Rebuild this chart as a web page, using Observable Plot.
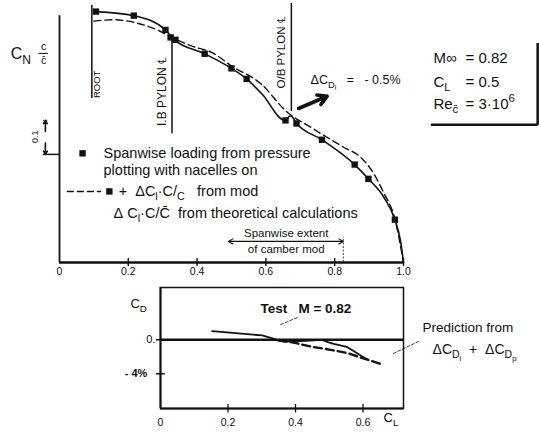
<!DOCTYPE html>
<html>
<head>
<meta charset="utf-8">
<script src="https://cdn.jsdelivr.net/npm/d3@7"></script>
<script src="https://cdn.jsdelivr.net/npm/@observablehq/plot@0.6"></script>
<style>
  html, body { margin: 0; padding: 0; background: #fff; }
  #chart { position: relative; width: 539px; height: 434px; overflow: hidden; }
  #chart svg { position: absolute; left: 0; top: 0; }
</style>
</head>
<body>
<div id="chart"></div>
<script>
// ---------- DATA ----------
// Spanwise loading, measured (squares): eta = 2y/b, CN*c/cbar
const testEta = [0.106, 0.216, 0.308, 0.323, 0.337, 0.422, 0.500, 0.544, 0.657, 0.689, 0.763, 0.858, 0.898, 0.975];
const testCN  = [0.738, 0.726, 0.684, 0.662, 0.655, 0.614, 0.571, 0.540, 0.418, 0.409, 0.361, 0.288, 0.246, 0.126];
// Faired curve through test points (solid)
const fairEta = [0.106, 0.216, 0.308, 0.331, 0.422, 0.500, 0.544, 0.590, 0.655, 0.672, 0.689, 0.763, 0.858, 0.898, 0.943, 0.975, 0.991, 1.000];
const fairCN  = [0.738, 0.726, 0.684, 0.657, 0.614, 0.571, 0.540, 0.494, 0.418, 0.432, 0.409, 0.361, 0.288, 0.246, 0.192, 0.126, 0.065, 0.000];
// Test + theoretical delta from camber mod (dashed)
const theoEta = [0.100, 0.157, 0.226, 0.284, 0.323, 0.381, 0.448, 0.500, 0.584, 0.662, 0.730, 0.826, 0.875, 0.913, 0.942, 0.975, 1.000];
const theoCN  = [0.710, 0.714, 0.704, 0.684, 0.663, 0.638, 0.615, 0.578, 0.527, 0.442, 0.398, 0.339, 0.310, 0.262, 0.206, 0.128, 0.000];
// Reference stations
const stationEta   = [0.094, 0.327, 0.674];
const stationLabel = ["ROOT", "I.B PYLON \u2104", "O/B PYLON \u2104"];
const camberExtent = [0.491, 0.825];
const xTicksTop = [0, 0.2, 0.4, 0.6, 0.8, 1.0];
const scaleBar = [0.318, 0.418]; // 0.1 of CN c/cbar

// Drag increment vs CL (percent)
const testCL = [0.153, 0.301, 0.347, 0.364, 0.415, 0.479, 0.496, 0.513, 0.533, 0.554, 0.572, 0.593, 0.613];
const testCD = [1.01, 0.51, -0.02, -0.20, -0.14, -0.02, -0.28, -0.47, -0.67, -0.87, -1.32, -1.85, -2.32];
const predCL = [0.350, 0.394, 0.444, 0.504, 0.553, 0.596, 0.657];
const predCD = [-0.10, -0.32, -0.79, -1.18, -1.55, -2.12, -2.90];
const xTicksBottom = [0, 0.2, 0.4, 0.6];
const yTicksBottom = [0, -4];

// ---------- helpers ----------
const ink = "#111";
const font = "'Liberation Sans', Arial, Helvetica, sans-serif";
const zip = (a, b) => a.map((v, i) => ({x: v, y: b[i]}));

// turn "_{..}" / "^{..}" markup into sub/superscript tspans
function build(parent, s) {
  let i = 0, buf = "";
  const flush = () => { if (buf) { parent.appendChild(document.createTextNode(buf)); buf = ""; } };
  while (i < s.length) {
    const c = s[i];
    if ((c === "_" || c === "^") && s[i + 1] === "{") {
      flush();
      let depth = 0, j = i + 1;
      for (; j < s.length; j++) {
        if (s[j] === "{") depth++;
        else if (s[j] === "}") { depth--; if (depth === 0) break; }
      }
      const ts = document.createElementNS("http://www.w3.org/2000/svg", "tspan");
      ts.style.fontSize = "75%";
      ts.style.baselineShift = c === "_" ? "-0.38em" : "0.6em";
      build(ts, s.slice(i + 2, j));
      parent.appendChild(ts);
      i = j + 1;
    } else { buf += c; i++; }
  }
  flush();
}
function rich(svg) {
  svg.querySelectorAll("text").forEach(el => {
    if (el.querySelector("tspan")) return;
    const s = el.textContent;
    if (!/[_^]\{/.test(s)) return;
    el.textContent = "";
    build(el, s);
  });
  return svg;
}

const W = 539, H = 434;
const nb = "\u00a0";

// ---------- TOP: spanwise loading ----------
const testPts = zip(testEta, testCN);
const fairPts = zip(fairEta, fairCN);
const theoPts = zip(theoEta, theoCN);
const stations = stationEta.map((e, i) => ({eta: e, label: stationLabel[i]}));
const stLine = [[0.482, 0.756], [0.379, 0.653], [0.444, 0.762]];
const stText = [[0.016, 0.524, 9.5], [-0.028, 0.503, 12], [-0.029, 0.618, 11.5]];
const boxRows = [0.600, 0.531, 0.465];

const spanPlot = Plot.plot({
  width: W, height: H,
  marginLeft: 59, marginRight: 136, marginTop: 7, marginBottom: 172,
  x: {domain: [0, 1], label: null},
  y: {domain: [0, 0.75], axis: null, label: null},
  style: {fontFamily: font, background: "transparent", color: ink, overflow: "visible"},
  marks: [
    Plot.axisX({ticks: xTicksTop, tickFormat: d => d ? d.toFixed(1) : "0", tickSize: 0, tickPadding: 5, fontSize: 10.5, label: null}),
    Plot.ruleY([0], {x1: 0, x2: 1, strokeWidth: 2.4, stroke: ink}),
    Plot.ruleX([0], {y1: 0, y2: 0.726, strokeWidth: 1.8, stroke: ink}),
    Plot.ruleX(xTicksTop.slice(1), {y1: -0.012, y2: 0.012, strokeWidth: 1.4, stroke: ink}),
    // reference station lines and labels
    Plot.ruleX(stations, {x: "eta", y1: (d, i) => stLine[i][0], y2: (d, i) => stLine[i][1], strokeWidth: 1.5, stroke: ink}),
    ...stations.map((s, i) => Plot.text([s.label], {x: s.eta + stText[i][0], y: stText[i][1], rotate: -90, fontSize: stText[i][2], fill: ink})),
    // curves
    Plot.line(theoPts, {x: "x", y: "y", curve: "monotone-x", stroke: ink, strokeWidth: 1.4, strokeDasharray: "7,4"}),
    Plot.line(fairPts, {x: "x", y: "y", curve: "monotone-x", stroke: ink, strokeWidth: 1.6}),
    Plot.dot(testPts, {x: "x", y: "y", symbol: "square", r: 3.6, fill: ink}),
    // y label C_N c/cbar
    Plot.text(["C_{N}"], {x: -0.142, y: 0.615, textAnchor: "start", fontSize: 16, fill: ink}),
    Plot.text(["c"], {x: -0.046, y: 0.634, fontSize: 11, fill: ink}),
    Plot.ruleY([0.615], {x1: -0.06, x2: -0.032, strokeWidth: 1, stroke: ink}),
    Plot.text(["c\u0304"], {x: -0.046, y: 0.595, fontSize: 11, fill: ink}),
    // 0.1 scale marker
    Plot.text(["0.1"], {x: -0.07, y: (scaleBar[0] + scaleBar[1]) / 2 + 0.002, rotate: -90, fontSize: 9, fill: ink}),
    Plot.arrow([0], {x1: -0.041, y1: scaleBar[0] + 0.067, x2: -0.041, y2: scaleBar[1], stroke: ink, strokeWidth: 1.6, headLength: 6}),
    Plot.arrow([0], {x1: -0.041, y1: scaleBar[1] - 0.067, x2: -0.041, y2: scaleBar[0], stroke: ink, strokeWidth: 1.6, headLength: 6}),
    Plot.ruleY([scaleBar[0]], {x1: -0.047, x2: 0, stroke: ink, strokeWidth: 1.5}),
    Plot.ruleY([scaleBar[1]], {x1: -0.047, x2: -0.032, stroke: ink, strokeWidth: 0.8, strokeDasharray: "1.5,1.5"}),
    // delta CDi annotation + arrow
    Plot.text([`\u0394C_{D_{i}}${nb}${nb}${nb}=${nb}${nb}${nb}-${nb}0.5%`], {x: 0.730, y: 0.538, textAnchor: "start", fontSize: 12.5, fill: ink}),
    Plot.arrow([0], {x1: 0.695, y1: 0.453, x2: 0.778, y2: 0.489, stroke: ink, strokeWidth: 3.6, headLength: 9}),
    // condition box
    Plot.text(["M\u221e", "C_{L}", "Re_{c\u0304}"], {x: 1.087, y: boxRows, textAnchor: "start", fontSize: 15, fill: ink}),
    Plot.text(["=", "=", "="], {x: 1.180, y: boxRows, textAnchor: "start", fontSize: 15, fill: ink}),
    Plot.text(["0.82", "0.5", "3\u00b710^{6}"], {x: 1.218, y: boxRows, textAnchor: "start", fontSize: 15, fill: ink}),
    Plot.ruleX([1.390], {y1: 0.403, y2: 0.644, stroke: ink, strokeWidth: 2.5}),
    Plot.ruleY([0.405], {x1: 1.081, x2: 1.391, stroke: ink, strokeWidth: 2.5}),
    // legend
    Plot.dot([0], {x: 0.067, y: 0.321, symbol: "square", r: 3.6, fill: ink}),
    Plot.text(["Spanwise loading from pressure", "plotting with nacelles on"], {x: 0.128, y: [0.321, 0.271], textAnchor: "start", fontSize: 14.5, fill: ink}),
    Plot.line([[0.023, 0.209], [0.119, 0.209]], {stroke: ink, strokeWidth: 1.4, strokeDasharray: "6,4"}),
    Plot.dot([0], {x: 0.145, y: 0.209, symbol: "square", r: 3.6, fill: ink}),
    Plot.text([`+${nb}${nb}\u0394C_{l}\u00b7C/_{C}${nb}${nb}${nb}from mod`], {x: 0.172, y: 0.209, textAnchor: "start", fontSize: 14.5, fill: ink}),
    Plot.text([`\u0394${nb}C_{l}\u00b7C/C\u0304${nb}${nb}from theoretical calculations`], {x: 0.157, y: 0.144, textAnchor: "start", fontSize: 14.5, fill: ink}),
    // spanwise extent of camber mod
    Plot.arrow([0], {x1: 0.66, y1: 0.062, x2: camberExtent[1], y2: 0.062, stroke: ink, strokeWidth: 1.1, headLength: 7}),
    Plot.arrow([0], {x1: 0.66, y1: 0.062, x2: camberExtent[0], y2: 0.062, stroke: ink, strokeWidth: 1.1, headLength: 7}),
    Plot.ruleX([camberExtent[1]], {y1: 0, y2: 0.074, stroke: ink, strokeWidth: 0.8, strokeDasharray: "2,1.5"}),
    Plot.text(["Spanwise extent", "of camber mod"], {x: 0.659, y: [0.0853, 0.038], fontSize: 11.5, fill: ink})
  ]
});

// ---------- BOTTOM: drag increment ----------
const testLine = zip(testCL, testCD);
const predLine = zip(predCL, predCD);

const dragPlot = Plot.plot({
  width: W, height: H,
  marginLeft: 160, marginRight: 136, marginTop: 287, marginBottom: 26,
  x: {domain: [0, 0.72], label: null},
  y: {domain: [-8.08, 6.15], axis: null, label: null},
  style: {fontFamily: font, background: "transparent", color: ink, overflow: "visible"},
  marks: [
    Plot.frame({stroke: ink, strokeWidth: 1.5}),
    Plot.ruleX([0], {stroke: ink, strokeWidth: 2}),
    Plot.ruleY([-8.08], {stroke: ink, strokeWidth: 2}),
    Plot.ruleY([0], {x1: 0, x2: 0.72, stroke: ink, strokeWidth: 2.4}),
    Plot.axisX({ticks: xTicksBottom, tickFormat: d => d ? d.toFixed(1) : "0", tickSize: 0, tickPadding: 10, fontSize: 10.5, label: null}),
    Plot.ruleX(xTicksBottom.slice(1), {y1: -8.6, y2: -7.6, stroke: ink, strokeWidth: 1.3}),
    Plot.ruleY(yTicksBottom, {x1: -0.012, x2: 0.014, stroke: ink, strokeWidth: 1.5}),
    Plot.text(["0."], {x: -0.015, y: yTicksBottom[0], textAnchor: "end", fontSize: 11, fill: ink}),
    Plot.text([`-${nb}4%`], {x: -0.039, y: yTicksBottom[1], textAnchor: "end", fontSize: 11, fontWeight: "bold", fill: ink}),
    Plot.text(["C_{D}"], {x: -0.089, y: 4.27, textAnchor: "start", fontSize: 13, fill: ink}),
    Plot.text(["C_{L}"], {x: 0.661, y: -9.14, textAnchor: "start", fontSize: 13, fill: ink}),
    // data lines
    Plot.line(testLine, {x: "x", y: "y", stroke: ink, strokeWidth: 1.8}),
    Plot.line(predLine, {x: "x", y: "y", stroke: ink, strokeWidth: 2.4, strokeDasharray: "8,4"}),
    // annotations
    Plot.text([`Test${nb}${nb}${nb}M = 0.82`], {x: 0.296, y: 3.68, textAnchor: "start", fontSize: 13.5, fontWeight: "bold", fill: ink}),
    Plot.line([[0.356, 1.80], [0.406, 2.62]], {stroke: ink, strokeWidth: 0.8, strokeDasharray: "3,2"}),
    Plot.text(["Prediction from"], {x: 0.776, y: 1.45, textAnchor: "start", fontSize: 13.5, fill: ink}),
    Plot.text([`\u0394C_{D_{i}}${nb}${nb}+${nb}${nb}\u0394C_{D_{p}}`], {x: 0.806, y: -1.1, textAnchor: "start", fontSize: 14, fill: ink}),
    Plot.line([[0.690, -1.61], [0.764, -0.2]], {stroke: ink, strokeWidth: 0.8, strokeDasharray: "3,2"})
  ]
});

const chart = document.getElementById("chart");
chart.appendChild(rich(spanPlot));
chart.appendChild(rich(dragPlot));
</script>
</body>
</html>
